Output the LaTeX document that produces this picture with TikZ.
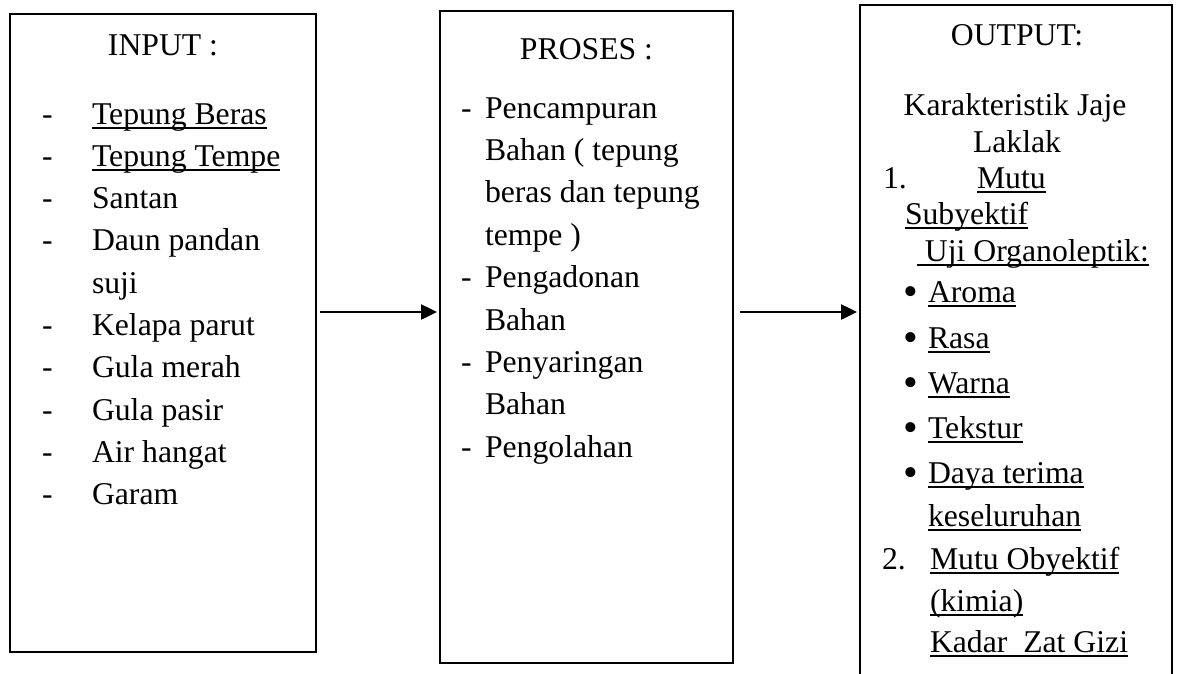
\documentclass[tikz,border=0pt]{standalone}
\usepackage{fontspec}
\setmainfont{Liberation Serif}
\usetikzlibrary{arrows.meta}
\newlength\ulw
\newcommand\myul[1]{\settowidth\ulw{#1}\rlap{\rule[-4.5pt]{\ulw}{1.9pt}}#1}
\newcommand\mybul{\raisebox{-3.5pt}{\fontsize{42pt}{42pt}\selectfont •}}
\tikzset{
  boxline/.style={draw=black, line width=2pt},
  boxnode/.style={boxline, rectangle, inner sep=0pt, outer sep=0pt},
  lbl/.style={inner sep=0pt, outer sep=0pt, anchor=base west, font=\fontsize{31.7pt}{38pt}\selectfont},
  ctr/.style={lbl, anchor=base},
  arr/.style={line width=2.5pt, -{Triangle[length=16pt,width=15pt]}},
}
\begin{document}
\begin{tikzpicture}[x=1pt,y=-1pt]
\useasboundingbox (0,0) rectangle (1178,673);
% boxes
\node[boxnode, minimum width=306pt, minimum height=638pt] (inbox) at (163,333) {};
\node[boxnode, minimum width=293pt, minimum height=652pt] (midbox) at (586.5,337) {};
\coordinate (obl) at (860,690);
\coordinate (otr) at (1172,5);
\coordinate (obr) at (1172,690);
\draw[boxline] (obl) |- (otr) -- (obr);
% arrows
\coordinate (a1s) at (320,312);
\coordinate (a1e) at (437,312);
\coordinate (a2s) at (740,312);
\coordinate (a2e) at (857,312);
\draw[arr] (a1s) -- (a1e);
\draw[arr] (a2s) -- (a2e);
% INPUT
\node[ctr] (inhead) at (163,55) {INPUT :};
\foreach \i/\t/\d in {0/\myul{Tepung Beras}/1, 1/\myul{Tepung Tempe}/1, 2/Santan/1, 3/Daun pandan/1, 4/suji/0, 5/Kelapa parut/1, 6/Gula merah/1, 7/Gula pasir/1, 8/Air hangat/1, 9/Garam/1}{
  \node[lbl] (in\i) at (92,124+42.3*\i) {\t};
  \ifnum\d=1 \node[lbl] (ind\i) at (42,124+42.3*\i) {-};\fi
}
% PROSES
\node[ctr] (midhead) at (586.5,59) {PROSES :};
\foreach \i/\t/\d in {0/Pencampuran/1, 1/Bahan ( tepung/0, 2/beras dan tepung/0, 3/tempe )/0, 4/Pengadonan/1, 5/Bahan/0, 6/Penyaringan/1, 7/Bahan/0, 8/Pengolahan/1}{
  \node[lbl] (pr\i) at (485,118+42.4*\i) {\t};
  \ifnum\d=1 \node[lbl] (prd\i) at (461,118+42.4*\i) {-};\fi
}
% OUTPUT
\node[ctr] (outhead) at (1017,45) {OUTPUT:};
\node[ctr] (ok1) at (1015,115) {Karakteristik Jaje};
\node[ctr] (ok2) at (1017,152) {Laklak};
\node[lbl] (on1) at (883,188) {1.};
\node[lbl] (om1) at (977,188) {\myul{Mutu}};
\node[lbl] (os1) at (905,224) {\myul{Subyektif}};
\node[lbl] (ou1) at (917,261) {\myul{ Uji Organoleptik:}};
\foreach \i/\t/\y/\b in {0/Aroma/302/1, 1/Rasa/348/1, 2/Warna/393/1, 3/Tekstur/438/1, 4/Daya terima/483/1, 5/keseluruhan/526/0}{
  \node[lbl] (ob\i) at (928,\y) {\myul{\t}};
  \ifnum\b=1 \node[lbl] (obb\i) at (903,\y) {\mybul};\fi
}
\node[lbl] (on2) at (882,569) {2.};
\node[lbl] (oo1) at (930,569) {\myul{Mutu Obyektif}};
\node[lbl] (oo2) at (930,611) {\myul{(kimia)}};
\node[lbl] (oo3) at (930,652) {\myul{Kadar\ \ Zat Gizi}};
\end{tikzpicture}
\end{document}
